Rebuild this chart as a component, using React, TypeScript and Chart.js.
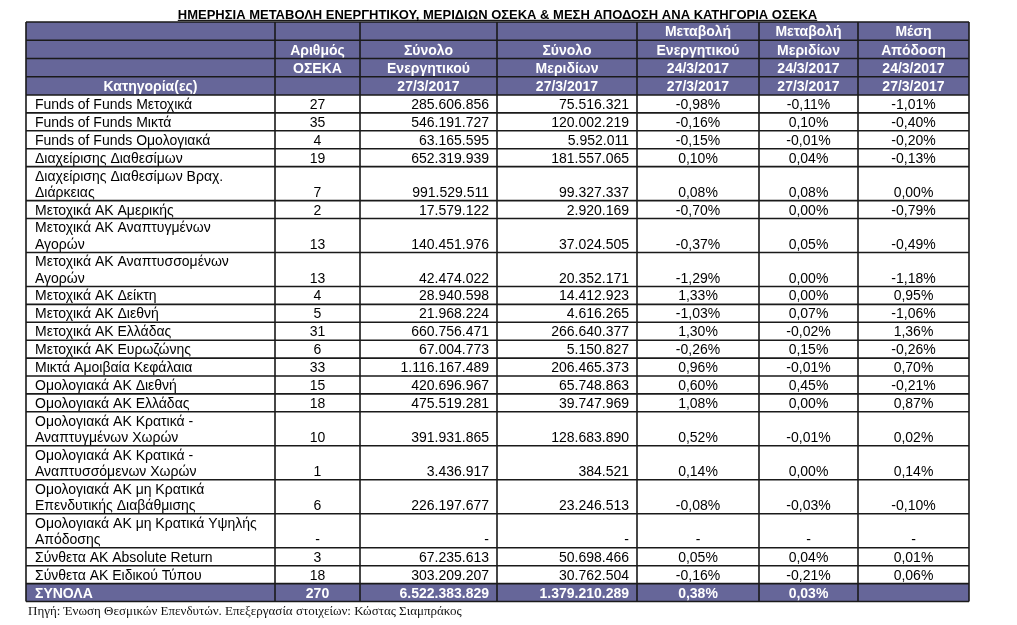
import { useEffect, useRef } from "react";
import { Chart, registerables } from "chart.js";

Chart.register(...registerables);

const chartTitle = "ΗΜΕΡΗΣΙΑ ΜΕΤΑΒΟΛΗ ΕΝΕΡΓΗΤΙΚΟΥ, ΜΕΡΙΔΙΩΝ ΟΣΕΚΑ & ΜΕΣΗ ΑΠΟΔΟΣΗ ΑΝΑ ΚΑΤΗΓΟΡΙΑ ΟΣΕΚΑ";
const sourceNote = "Πηγή: Ένωση Θεσμικών Επενδυτών. Επεξεργασία στοιχείων: Κώστας Σιαμπράκος";

const headerRow1 = ["", "", "", "", "Μεταβολή", "Μεταβολή", "Μέση"];
const headerRow2 = ["", "Αριθμός", "Σύνολο", "Σύνολο", "Ενεργητικού", "Μεριδίων", "Απόδοση"];
const headerRow3 = ["", "ΟΣΕΚΑ", "Ενεργητικού", "Μεριδίων", "24/3/2017", "24/3/2017", "24/3/2017"];
const headerRow4 = ["Κατηγορία(ες)", "", "27/3/2017", "27/3/2017", "27/3/2017", "27/3/2017", "27/3/2017"];

const categories = [
  "Funds of Funds Μετοχικά",
  "Funds of Funds Μικτά",
  "Funds of Funds Ομολογιακά",
  "Διαχείρισης Διαθεσίμων",
  "Διαχείρισης Διαθεσίμων Βραχ.\nΔιάρκειας",
  "Μετοχικά ΑΚ Αμερικής",
  "Μετοχικά ΑΚ Αναπτυγμένων\nΑγορών",
  "Μετοχικά ΑΚ Αναπτυσσομένων\nΑγορών",
  "Μετοχικά ΑΚ Δείκτη",
  "Μετοχικά ΑΚ Διεθνή",
  "Μετοχικά ΑΚ Ελλάδας",
  "Μετοχικά ΑΚ Ευρωζώνης",
  "Μικτά Αμοιβαία Κεφάλαια",
  "Ομολογιακά ΑΚ Διεθνή",
  "Ομολογιακά ΑΚ Ελλάδας",
  "Ομολογιακά ΑΚ Κρατικά -\nΑναπτυγμένων Χωρών",
  "Ομολογιακά ΑΚ Κρατικά -\nΑναπτυσσόμενων Χωρών",
  "Ομολογιακά ΑΚ μη Κρατικά\nΕπενδυτικής Διαβάθμισης",
  "Ομολογιακά ΑΚ μη Κρατικά Υψηλής\nΑπόδοσης",
  "Σύνθετα ΑΚ Absolute Return",
  "Σύνθετα ΑΚ Ειδικού Τύπου",
];

const fundCounts = [27, 35, 4, 19, 7, 2, 13, 13, 4, 5, 31, 6, 33, 15, 18, 10, 1, 6, null, 3, 18];
const totalAssets = [285606856, 546191727, 63165595, 652319939, 991529511, 17579122, 140451976, 42474022, 28940598, 21968224, 660756471, 67004773, 1116167489, 420696967, 475519281, 391931865, 3436917, 226197677, null, 67235613, 303209207];
const totalUnits = [75516321, 120002219, 5952011, 181557065, 99327337, 2920169, 37024505, 20352171, 14412923, 4616265, 266640377, 5150827, 206465373, 65748863, 39747969, 128683890, 384521, 23246513, null, 50698466, 30762504];
const assetChange = [-0.98, -0.16, -0.15, 0.1, 0.08, -0.7, -0.37, -1.29, 1.33, -1.03, 1.3, -0.26, 0.96, 0.6, 1.08, 0.52, 0.14, -0.08, null, 0.05, -0.16];
const unitChange = [-0.11, 0.1, -0.01, 0.04, 0.08, 0.0, 0.05, 0.0, 0.0, 0.07, -0.02, 0.15, -0.01, 0.45, 0.0, -0.01, 0.0, -0.03, null, 0.04, -0.21];
const avgReturn = [-1.01, -0.4, -0.2, -0.13, 0.0, -0.79, -0.49, -1.18, 0.95, -1.06, 1.36, -0.26, 0.7, -0.21, 0.87, 0.02, 0.14, -0.1, null, 0.01, 0.06];

const totalLabel = "ΣΥΝΟΛΑ";
const totalCount = 270;
const totalAssetsSum = 6522383829;
const totalUnitsSum = 1379210289;
const totalAssetChange = 0.38;
const totalUnitChange = 0.03;

// layout (page pixels)
const PAGE_W = 1017;
const PAGE_H = 625;
const COL_EDGES = [26, 275, 360, 497, 637, 759, 858, 969];
const TABLE_TOP = 22;
const HEADER_H = 18.25;
const SINGLE_H = 17.9;
const EXTRA_LINE_H = 16.1;
const DATA_ALIGN = ["left", "center", "right", "right", "center", "center", "center"];
const HEADER_BG = "#666699";
const GRID = "#1a1a1a";
const FONT = '"Liberation Sans", Arial, sans-serif';

const fmtInt = (v) => (v === null || v === undefined ? "-" : String(v).replace(/\B(?=(\d{3})+(?!\d))/g, "."));
const fmtPct = (v) => (v === null || v === undefined ? "-" : v.toFixed(2).replace(".", ",") + "%");

function buildRows() {
  const rows = [];
  [headerRow1, headerRow2, headerRow3, headerRow4].forEach((r) =>
    rows.push({ kind: "header", cells: r, h: HEADER_H })
  );
  categories.forEach((c, i) => {
    const lines = c.split("\n").length;
    rows.push({
      kind: "data",
      h: SINGLE_H + (lines - 1) * EXTRA_LINE_H,
      cells: [
        c,
        fundCounts[i] === null ? "-" : String(fundCounts[i]),
        fmtInt(totalAssets[i]),
        fmtInt(totalUnits[i]),
        fmtPct(assetChange[i]),
        fmtPct(unitChange[i]),
        fmtPct(avgReturn[i]),
      ],
    });
  });
  rows.push({
    kind: "total",
    h: SINGLE_H,
    cells: [totalLabel, String(totalCount), fmtInt(totalAssetsSum), fmtInt(totalUnitsSum), fmtPct(totalAssetChange), fmtPct(totalUnitChange), ""],
  });
  return rows;
}

const tablePlugin = {
  id: "tablePlugin",
  beforeDraw(chart) {
    const { ctx } = chart;
    ctx.save();
    ctx.fillStyle = "#ffffff";
    ctx.fillRect(0, 0, chart.width, chart.height);
    ctx.restore();
  },
  afterDraw(chart) {
    const { ctx } = chart;
    const xs = chart.scales.x;
    const ys = chart.scales.y;
    const X = (v) => xs.getPixelForValue(v);
    const Y = (v) => ys.getPixelForValue(v);
    const rows = buildRows();
    const left = X(COL_EDGES[0]);
    const right = X(COL_EDGES[COL_EDGES.length - 1]);

    ctx.save();
    // title
    ctx.font = `bold 13px ${FONT}`;
    ctx.fillStyle = "#000";
    ctx.textAlign = "center";
    ctx.textBaseline = "alphabetic";
    const cx = X((COL_EDGES[0] + COL_EDGES[COL_EDGES.length - 1]) / 2);
    const ty = Y(18.5);
    ctx.fillText(chartTitle, cx, ty);
    const tw = ctx.measureText(chartTitle).width;
    ctx.fillRect(cx - tw / 2, ty + 1.3, tw, 1.1);

    // rows
    let top = TABLE_TOP;
    const bounds = [];
    rows.forEach((row) => {
      const y0 = Y(top);
      const y1 = Y(top + row.h);
      bounds.push(top);
      if (row.kind !== "data") {
        ctx.fillStyle = HEADER_BG;
        ctx.fillRect(left, y0, right - left, y1 - y0);
      }
      const bold = row.kind !== "data";
      ctx.font = `${bold ? "bold " : ""}14px ${FONT}`;
      ctx.fillStyle = row.kind === "data" ? "#000" : "#ffffff";
      row.cells.forEach((text, ci) => {
        if (!text) return;
        const cl = X(COL_EDGES[ci]);
        const cr = X(COL_EDGES[ci + 1]);
        const align = row.kind === "header" ? "center" : DATA_ALIGN[ci];
        ctx.textAlign = align;
        const tx = align === "left" ? cl + 9 : align === "right" ? cr - 8 : (cl + cr) / 2;
        const lines = text.split("\n");
        lines.forEach((ln, li) => {
          const by = y1 - 4 - (lines.length - 1 - li) * EXTRA_LINE_H;
          ctx.fillText(ln, tx, by);
        });
      });
      top += row.h;
    });
    bounds.push(top);

    // grid
    ctx.strokeStyle = GRID;
    ctx.lineWidth = 1.6;
    ctx.beginPath();
    bounds.forEach((b) => {
      const yy = Y(b);
      ctx.moveTo(left, yy);
      ctx.lineTo(right, yy);
    });
    COL_EDGES.forEach((e) => {
      const xx = X(e);
      ctx.moveTo(xx, Y(TABLE_TOP));
      ctx.lineTo(xx, Y(top));
    });
    ctx.stroke();

    // source
    ctx.font = `13px "Liberation Serif", "Times New Roman", serif`;
    ctx.fillStyle = "#111";
    ctx.textAlign = "left";
    ctx.fillText(sourceNote, X(28), Y(615));
    ctx.restore();
  },
};

export default function App() {
  const ref = useRef(null);
  useEffect(() => {
    const chart = new Chart(ref.current, {
      type: "scatter",
      data: { datasets: [] },
      options: {
        animation: false,
        responsive: false,
        layout: { padding: 0 },
        plugins: { legend: { display: false }, tooltip: { enabled: false }, title: { display: false } },
        scales: {
          x: { type: "linear", min: 0, max: PAGE_W, display: false },
          y: { type: "linear", min: 0, max: PAGE_H, reverse: true, display: false },
        },
      },
      plugins: [tablePlugin],
    });
    return () => chart.destroy();
  }, []);
  return (
    <div style={{ position: "absolute", left: 0, top: 0, width: PAGE_W, height: PAGE_H }}>
      <canvas ref={ref} width={PAGE_W} height={PAGE_H} style={{ display: "block", width: PAGE_W, height: PAGE_H }} />
    </div>
  );
}
